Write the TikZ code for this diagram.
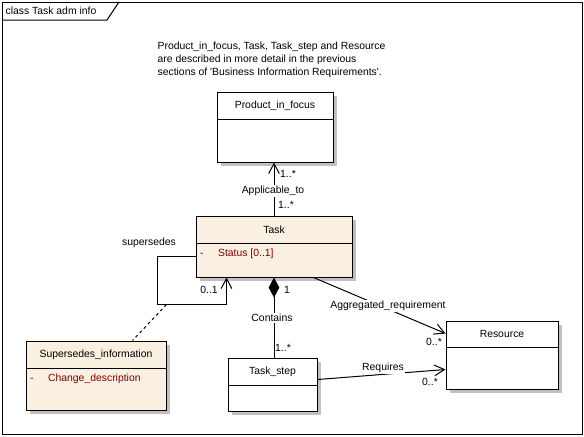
\documentclass[tikz,border=0pt]{standalone}
\usepackage{fontspec}
\setmainfont{Liberation Sans}
\usetikzlibrary{calc,arrows.meta}
\definecolor{cream}{RGB}{250,240,226}
\definecolor{dred}{RGB}{128,0,0}
\definecolor{shad}{RGB}{192,192,192}
\newcommand{\px}{0.75pt}
\tikzset{
  clsbox/.style={draw, line width=0.75pt, inner sep=0pt},
  lbl/.style={font=\fontsize{7.8}{9.9}\selectfont, inner sep=1pt},
  tag/.style={lbl, fill=white},
  assoc/.style={line width=0.75pt, -{Straight Barb[length=7.5pt,width=8pt]}},
  comp/.style={line width=0.75pt, {Diamond[length=15pt,width=8pt]}-}
}
\newcommand{\umlcls}[8]{
% shadow
\fill[shad] (#2+4,#3+4) rectangle ++(#4,#5);
% body
\node[clsbox, fill=#7, minimum width=#4*\px, minimum height=#5*\px] (#1) at (#2+#4/2,#3+#5/2) {};
\draw[line width=0.75pt] (#2,#3+#6) -- ++(#4,0);
% name
\node[lbl] (#1-name) at (#2+#4/2,#3+#6/2) {#8};
}
\newcommand{\umlattr}[3]{
\node[lbl, text=dred, anchor=west] (#1-attr) at ($(#1.north west)+(3,#2)$) {\makebox[13.5pt][l]{-}#3};
}

\begin{document}
\begin{tikzpicture}[x=\px,y=-\px]
\useasboundingbox (0,0) rectangle (584,436);

% frame
\draw[line width=0.75pt] (2,2) rectangle (582,434);
\draw[line width=0.75pt] (2,20) -- (107,20) -- (119,2);
\node[lbl, anchor=west] (frame-name) at (4,11) {class Task adm info};

% note
\node[lbl, align=left, anchor=north west] (note) at (156,40)
  {Product\_in\_focus, Task, Task\_step and Resource\\
   are described in more detail in the previous\\
   sections of \textquotesingle Business Information Requirements\textquotesingle.};

% classes
\umlcls{prod}{217}{92}{116}{70}{27}{white}{Product\_in\_focus}
\umlcls{task}{196}{216}{156}{61}{27}{cream}{Task}
\umlattr{task}{38}{Status [0..1]}
\umlcls{sup}{26}{341}{140}{69}{27}{cream}{Supersedes\_information}
\umlattr{sup}{38}{Change\_description}
\umlcls{step}{228}{358}{89}{53}{27}{white}{Task\_step}
\umlcls{res}{446}{321}{112}{68}{26}{white}{Resource}

% applicable
\draw[assoc] (task.north) -- (task.north |- prod.south);
\node[lbl] (m-prod) at (288,174) {1..*};
\node[lbl] (m-app) at (286,205) {1..*};
\node[tag] (applicable) at (273,191) {Applicable\_to};

% supersedes
\coordinate (loop-in) at ($(task.south west)+(0,-21)$);
\coordinate (loop-out) at ($(task.south west)+(31,0)$);
\coordinate (loop-bot) at ($(task.south west)+(-29,27)$);
\draw[assoc] (loop-in) -- ++(-38,0) |- ($(loop-out)+(0,27)$) -- (loop-out);
\draw[line width=0.75pt, dash pattern=on 2.25pt off 2.25pt] (loop-bot) -- ($(sup.north east)+(-34,0)$);
\node[lbl] (supersedes) at (149,243) {supersedes};
\node[lbl] (m-sup) at (209,290) {0..1};

% contains
\draw[comp] (task.south) -- (task.south |- step.north);
\node[lbl] (m-task) at (287,290) {1};
\node[tag] (contains) at (272,318) {Contains};
\node[lbl] (m-step) at (283,348) {1..*};

% aggregated
\draw[assoc] ($(task.south east)+(-39,0)$) -- ($(res.north west)+(0,13)$);
\node[tag] (aggregated) at (388,306) {Aggregated\_requirement};
\node[lbl] (m-agg) at (434,342) {0..*};

% requires
\draw[assoc] ($(step.north east)+(0,22)$) -- ($(res.north west)+(0,49)$);
\node[tag] (requires) at (383,368) {Requires};
\node[lbl] (m-req) at (430,382) {0..*};
\end{tikzpicture}
\end{document}
